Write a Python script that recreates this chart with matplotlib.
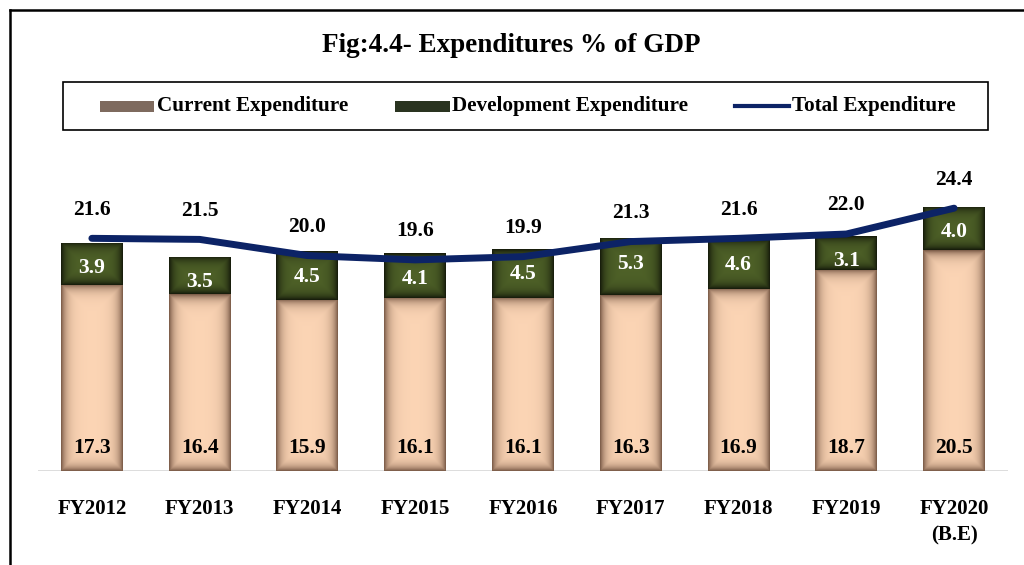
import numpy as np
import matplotlib.pyplot as plt
from matplotlib.patches import Rectangle
from matplotlib.lines import Line2D

years = ['FY2012', 'FY2013', 'FY2014', 'FY2015', 'FY2016',
         'FY2017', 'FY2018', 'FY2019', 'FY2020\n(B.E)']
current = [17.3, 16.4, 15.9, 16.1, 16.1, 16.3, 16.9, 18.7, 20.5]
development = [3.9, 3.5, 4.5, 4.1, 4.5, 5.3, 4.6, 3.1, 4.0]
total = [21.6, 21.5, 20.0, 19.6, 19.9, 21.3, 21.6, 22.0, 24.4]

plt.rcParams['font.family'] = ['Liberation Serif', 'DejaVu Serif']
plt.rcParams['font.weight'] = 'bold'

W, H = 1024, 565
cur_color = np.array([252, 213, 181]) / 255.
cur_edge = np.array([128, 96, 76]) / 255.
dev_color = np.array([79, 98, 40]) / 255.
dev_edge = np.array([24, 30, 12]) / 255.
line_color = '#0C2366'


def shaded_bar(ax, x, bottom, height, width, center, edge):
  '''
  Draw a bar whose fill darkens towards its edges (inner shadow).
  '''
  rect = Rectangle((x - width / 2, bottom), width, height,
                   facecolor='none', edgecolor='none')
  ax.add_patch(rect)
  nx, ny = 60, max(int(height * 10), 4)
  u = np.linspace(0, 1, nx)
  v = np.linspace(0, 1, ny)
  # distance to nearest edge in approx pixels
  dx = np.minimum(u, 1 - u) * 62
  dy = np.minimum(v, 1 - v) * height * 10.77
  d = np.minimum(dx[None, :], dy[:, None])
  t = np.exp(-d / 5.5)
  img = center[None, None, :] * (1 - t[..., None]) + edge[None, None, :] * t[..., None]
  im = ax.imshow(img, extent=(x - width / 2, x + width / 2, bottom, bottom + height),
                 origin='lower', aspect='auto', interpolation='bilinear', zorder=2)
  im.set_clip_path(rect)


fig = plt.figure(figsize=(W / 100, H / 100), dpi=100)
ax = fig.add_axes([38 / W, 94 / H, 970 / W, 321 / H])
xs = np.arange(len(years))
bw = 0.575
for i in xs:
  shaded_bar(ax, i, 0, current[i], bw, cur_color, cur_edge)
  shaded_bar(ax, i, current[i], development[i], bw, dev_color, dev_edge)
  ax.text(i, 2.1, f'{current[i]:.1f}', ha='center', va='center',
          fontsize=15.5, fontweight='bold', color='black', zorder=5)
  ax.text(i, current[i] + development[i] - 2.35, f'{development[i]:.1f}',
          ha='center', va='center', fontsize=15.5, fontweight='bold',
          color='white', zorder=5)
  ax.text(i, total[i] + 2.65, f'{total[i]:.1f}', ha='center', va='center',
          fontsize=15.5, fontweight='bold', color='black', zorder=5)

ax.plot(xs, total, color=line_color, lw=5, solid_capstyle='round',
        solid_joinstyle='round', zorder=4)
ax.axhline(0, color='#D9D9D9', lw=2, zorder=1)

ax.set_xlim(-0.5, len(years) - 0.5)
ax.set_ylim(0, 29.8)
ax.set_xticks(xs)
ax.set_xticklabels(years, fontsize=15, fontweight='bold', linespacing=1.45)
ax.tick_params(axis='x', length=0, pad=20)
ax.set_yticks([])
for s in ax.spines.values():
  s.set_visible(False)

# outer border (cropped at right and bottom)
top = 1 - 10 / H
fig.add_artist(Line2D([9.5 / W, 9.5 / W], [0, top], transform=fig.transFigure,
                      color='black', lw=1.8))
fig.add_artist(Line2D([9.5 / W, 1], [top, top], transform=fig.transFigure,
                      color='black', lw=1.8))

fig.text(511 / W, 1 - 45 / H, 'Fig:4.4- Expenditures % of GDP', ha='center',
         va='center', fontsize=19.5, fontweight='bold')

# legend box
fig.add_artist(Rectangle((63 / W, 1 - 130 / H), 925 / W, 48 / H,
                         transform=fig.transFigure, facecolor='none',
                         edgecolor='black', lw=1.2))
ly = 1 - 106 / H
fig.add_artist(Rectangle((100 / W, ly - 5.5 / H), 54 / W, 11 / H,
                         transform=fig.transFigure, facecolor='#7E6A5E',
                         edgecolor='none'))
fig.text(157 / W, ly, 'Current Expenditure', ha='left', va='center',
         fontsize=15.2, fontweight='bold')
fig.add_artist(Rectangle((395 / W, ly - 5.5 / H), 55 / W, 11 / H,
                         transform=fig.transFigure, facecolor='#2A3420',
                         edgecolor='none'))
fig.text(452 / W, ly, 'Development Expenditure', ha='left', va='center',
         fontsize=15.2, fontweight='bold')
fig.add_artist(Line2D([735 / W, 789 / W], [ly, ly], transform=fig.transFigure,
                      color=line_color, lw=3))
fig.text(792 / W, ly, 'Total Expenditure', ha='left', va='center',
         fontsize=15.2, fontweight='bold')

fig.savefig('out.png', dpi=100)
